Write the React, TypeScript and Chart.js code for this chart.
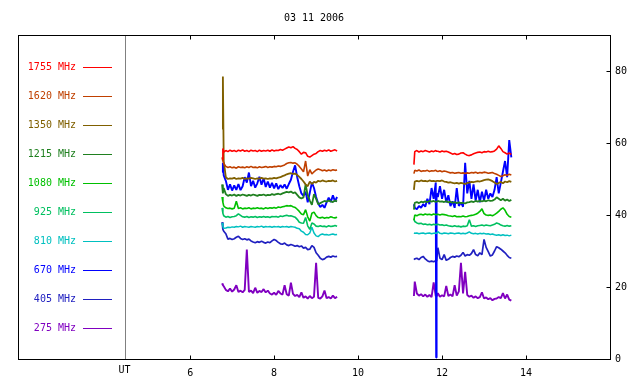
import { useEffect, useRef } from 'react';
import { Chart, registerables } from 'chart.js';

Chart.register(...registerables);

const FONT = '"DejaVu Sans Mono", "Liberation Mono", monospace';

const titleText = '03 11 2006';
const utLabel = 'UT';
const utHour = 4.46;
const gapHour = 10.4;
const xMin = 1.9;
const xMax = 16;
const yMin = 0;
const yMax = 90;
const xTicks = [6, 8, 10, 12, 14];
const yTicks = [0, 20, 40, 60, 80];

const freqLabels = ['1755 MHz', '1620 MHz', '1350 MHz', '1215 MHz', '1080 MHz', '925 MHz', '810 MHz', '670 MHz', '405 MHz', '275 MHz'];
const freqColors = ['#ff0000', '#c04000', '#806000', '#208020', '#00c000', '#00c060', '#00c0c0', '#0000ff', '#2020c0', '#8000c0'];
const lineWidths = [1.6, 1.6, 1.8, 1.8, 1.6, 1.6, 1.5, 1.9, 1.7, 1.9];

const t1 = [
  6.76, 6.78, 6.80, 6.85, 6.90, 6.95, 7.00, 7.05, 7.10, 7.15,
  7.20, 7.25, 7.30, 7.35, 7.40, 7.45, 7.50, 7.55, 7.60, 7.65,
  7.70, 7.75, 7.80, 7.85, 7.90, 7.95, 8.00, 8.05, 8.10, 8.15,
  8.20, 8.25, 8.30, 8.35, 8.40, 8.45, 8.50, 8.55, 8.60, 8.65,
  8.70, 8.75, 8.80, 8.85, 8.90, 8.95, 9.00, 9.05, 9.10, 9.15,
  9.20, 9.25, 9.30, 9.35, 9.40, 9.45, 9.50,
];
const t2 = [
  11.33, 11.35, 11.40, 11.45, 11.50, 11.55, 11.60, 11.65, 11.70, 11.75,
  11.80, 11.85, 11.86, 11.87, 11.90, 11.95, 12.00, 12.05, 12.10, 12.15,
  12.20, 12.25, 12.30, 12.35, 12.40, 12.45, 12.50, 12.55, 12.60, 12.65,
  12.70, 12.75, 12.80, 12.85, 12.90, 12.95, 13.00, 13.05, 13.10, 13.15,
  13.20, 13.25, 13.30, 13.35, 13.40, 13.45, 13.50, 13.55, 13.60, 13.65,
];

const f1755a = [
  55.5, 58.5, 57.5, 57.9, 57.6, 58.0, 57.7, 57.9, 57.6, 58.0,
  57.8, 58.1, 57.7, 57.9, 57.6, 58.0, 57.8, 57.9, 57.6, 58.0,
  57.7, 57.9, 57.8, 58.0, 57.7, 58.1, 57.8, 58.0, 57.9, 58.2,
  58.0, 58.3, 58.6, 58.9, 58.7, 59.0, 58.5, 58.2, 57.6, 56.9,
  57.4, 57.3, 56.3, 56.1, 56.5, 56.9, 57.1, 57.6, 57.9, 57.7,
  58.0, 57.8, 58.1, 57.7, 57.9, 58.1, 57.8,
];
const f1755b = [
  54.0, 57.6, 57.9, 57.5, 57.8, 57.6, 57.9, 57.7, 57.5, 57.8,
  57.6, 57.9, 57.8, 57.7, 57.7, 57.5, 57.8, 57.6, 57.7, 57.5,
  57.2, 56.9, 57.1, 56.8, 56.9, 57.2, 57.3, 56.9, 56.6, 56.5,
  56.7, 57.0, 57.2, 57.4, 57.5, 57.3, 57.6, 57.5, 57.7, 57.5,
  57.6, 57.8, 58.3, 59.2, 58.5, 57.6, 57.3, 56.9, 57.2, 56.8,
];
const f1620a = [
  56.0, 55.0, 54.3, 53.5, 53.2, 53.4, 53.1, 53.3, 53.0, 53.4,
  53.2, 53.3, 53.1, 53.4, 53.2, 53.5, 53.2, 53.3, 53.1, 53.4,
  53.2, 53.3, 53.5, 53.2, 53.4, 53.3, 53.5, 53.4, 53.6, 53.5,
  53.7, 53.9, 54.3, 54.5, 54.6, 54.4, 54.5, 54.1, 53.5, 52.8,
  52.0, 55.0, 50.8, 52.6, 51.4, 52.0, 52.5, 52.8, 52.6, 52.3,
  52.5, 52.2, 52.5, 52.3, 52.6, 52.4, 52.5,
];
const f1620b = [
  51.5, 52.4, 52.2, 52.5, 52.1, 52.3, 52.2, 52.4, 52.1, 52.3,
  52.2, 52.4, 52.3, 52.2, 52.1, 52.3, 52.0, 52.2, 52.1, 51.9,
  51.7, 51.8, 51.6, 51.7, 51.8, 51.6, 51.7, 51.5, 51.7, 51.6,
  51.8, 51.7, 51.9, 51.6, 51.8, 51.7, 51.9, 51.8, 51.6, 51.7,
  51.8, 51.5, 51.3, 51.0, 50.7, 50.9, 51.2, 51.0, 51.3, 51.1,
];
const f1350a = [
  64.0, 78.5, 55.0, 50.5, 50.0, 50.2, 50.1, 50.3, 50.0, 50.2,
  50.1, 50.3, 50.0, 50.2, 50.1, 50.3, 50.2, 50.0, 50.2, 50.1,
  50.3, 50.1, 50.2, 50.0, 50.2, 50.1, 50.3, 50.2, 50.4, 50.5,
  50.8, 51.0, 51.3, 51.5, 51.6, 51.4, 51.5, 51.1, 50.6, 50.0,
  49.3, 48.5, 48.0, 49.3, 48.6, 49.2, 49.0, 49.5, 49.3, 49.6,
  49.4, 49.3, 49.5, 49.4, 49.6, 49.3, 49.5,
];
const f1350b = [
  47.0, 49.3, 49.5, 49.3, 49.6, 49.4, 49.5, 49.3, 49.6, 49.4,
  49.5, 49.3, 49.4, 49.5, 49.5, 49.4, 49.6, 49.3, 49.2, 49.0,
  49.1, 48.9, 48.8, 48.9, 48.7, 48.9, 48.8, 48.6, 48.9, 49.0,
  49.2, 49.1, 49.3, 49.4, 49.3, 49.5, 49.7, 49.8, 49.9, 49.7,
  49.4, 49.0, 48.6, 48.9, 49.2, 48.8, 49.3, 49.1, 49.4, 49.2,
];
const f1215a = [
  48.5, 46.0, 47.5, 45.8, 45.3, 45.6, 45.4, 45.7, 45.3, 45.6,
  45.4, 45.7, 45.5, 45.3, 45.6, 45.4, 45.7, 45.5, 45.3, 45.6,
  45.5, 45.7, 45.4, 45.6, 45.5, 45.8, 45.6, 45.8, 45.9, 45.7,
  46.0, 46.2, 46.4, 46.3, 46.5, 46.1, 46.3, 45.6, 44.9, 44.6,
  44.9, 48.5, 45.5, 44.0, 42.8, 45.8, 44.5, 43.0, 43.3, 43.6,
  43.9, 43.7, 44.0, 43.8, 43.6, 44.0, 43.8,
];
const f1215b = [
  41.5, 43.4, 43.6, 43.3, 43.7, 43.5, 43.8, 43.6, 43.9, 43.7,
  43.9, 43.6, 43.8, 43.7, 43.9, 43.7, 43.8, 43.6, 43.9, 43.5,
  43.7, 43.4, 43.6, 43.3, 43.5, 43.3, 43.4, 43.2, 43.5, 43.6,
  43.8, 43.6, 43.9, 43.7, 43.9, 43.8, 44.0, 43.8, 44.1, 43.9,
  44.0, 44.3, 44.9, 44.5, 44.1, 44.5, 44.0, 44.3, 43.9, 44.2,
];
const f1080a = [
  45.0, 43.5, 42.5, 42.0, 41.8, 41.9, 41.7, 41.9, 43.8, 41.8,
  42.0, 41.7, 41.9, 41.8, 42.0, 41.7, 41.9, 41.8, 42.0, 41.8,
  41.9, 41.7, 42.0, 41.8, 42.0, 41.9, 42.1, 41.9, 42.2, 42.1,
  42.3, 42.4, 42.6, 42.5, 42.6, 42.3, 42.1, 41.6, 41.0, 40.3,
  40.1, 41.5, 39.5, 38.3, 40.5, 40.8, 39.8, 39.3, 39.2, 39.4,
  39.1, 39.3, 39.2, 39.5, 39.3, 39.2, 39.4,
];
const f1080b = [
  38.5, 40.0, 39.8, 40.1, 40.2, 40.0, 40.3, 40.1, 40.2, 40.0,
  40.3, 40.1, 40.2, 40.1, 40.2, 40.0, 40.2, 40.1, 40.0, 39.8,
  39.7, 39.6, 39.8, 39.5, 39.6, 39.5, 39.7, 39.5, 39.6, 39.8,
  39.9, 40.0, 40.2, 40.5, 41.0, 41.7, 40.4, 40.0, 39.9, 40.0,
  39.8, 40.1, 40.5, 41.0, 41.6, 42.0, 41.3, 40.2, 39.6, 39.4,
];
const f925a = [
  42.0, 40.5, 39.8, 39.4, 39.6, 39.3, 39.5, 39.6, 39.8, 40.3,
  39.9, 39.5, 39.4, 39.6, 39.3, 39.5, 39.4, 39.6, 39.3, 39.5,
  39.4, 39.6, 39.4, 39.5, 39.3, 39.6, 39.5, 39.6, 39.4, 39.7,
  39.6, 39.8, 39.9, 39.7, 39.8, 39.6, 39.4, 38.8, 38.0, 37.8,
  37.7, 39.3, 37.0, 36.0, 37.8, 37.5, 36.9, 36.8, 37.0, 36.8,
  36.9, 36.7, 37.0, 36.8, 36.9, 37.1, 36.9,
];
const f925b = [
  39.0, 38.2, 37.8, 37.6, 37.7, 37.4, 37.5, 37.3, 37.4, 37.2,
  37.4, 37.3, 37.4, 37.3, 37.4, 37.2, 37.3, 37.1, 37.2, 37.0,
  36.9, 36.8, 37.0, 36.8, 36.9, 36.7, 36.9, 36.8, 37.0, 38.7,
  36.9, 37.0, 36.8, 37.0, 37.1, 37.2, 37.0, 37.2, 37.1, 37.0,
  37.2, 37.4, 37.8, 37.6, 37.2, 37.0, 36.9, 37.1, 36.9, 37.0,
];
const f810a = [
  37.8, 36.8, 36.3, 36.4, 36.6, 36.5, 36.7, 36.6, 36.8, 36.7,
  36.9, 36.6, 36.8, 36.7, 36.6, 36.8, 36.7, 36.6, 36.8, 36.7,
  36.9, 36.6, 36.8, 36.7, 36.8, 36.6, 36.8, 36.7, 36.8, 36.6,
  36.8, 36.7, 36.8, 36.6, 36.8, 36.7, 36.6, 36.3, 36.2, 35.5,
  35.2, 34.6, 34.5, 35.0, 36.6, 35.0, 34.2, 34.0, 34.5, 34.7,
  34.5, 34.6, 34.4, 34.6, 34.7, 34.5, 34.6,
];
const f810b = [
  35.0, 34.9, 35.0, 34.8, 34.9, 35.0, 34.8, 34.9, 35.0, 34.8,
  34.9, 35.0, 34.9, 34.8, 35.4, 34.9, 34.8, 35.0, 34.9, 34.8,
  35.0, 34.9, 34.8, 34.9, 35.0, 34.8, 34.9, 34.8, 35.0, 35.3,
  34.9, 34.8, 34.9, 34.7, 34.9, 34.8, 34.9, 34.7, 34.8, 34.6,
  34.7, 34.5, 34.4, 34.5, 34.3, 34.5, 34.3, 34.4, 34.2, 34.4,
];
const f670a = [
  52.0, 54.5, 51.0, 49.5, 47.0, 48.5, 46.8, 48.2, 47.0, 48.6,
  46.9, 48.0, 50.5, 49.0, 51.8, 48.0, 49.5, 47.6, 48.8, 50.6,
  48.4, 50.2, 47.8, 49.3, 47.6, 48.9, 47.4, 48.8, 47.2, 48.3,
  47.5, 48.5, 47.3, 48.6, 49.8, 52.0, 53.8, 50.5, 48.0, 46.0,
  45.3, 46.5, 43.5, 46.2, 49.0, 47.5, 45.0, 43.2, 42.2, 42.8,
  42.0, 43.5, 44.8, 43.6, 45.5, 43.8, 45.0,
];
const f670b = [
  43.0, 42.0, 41.6, 42.5, 42.0, 43.0, 42.3, 44.5, 43.0, 47.5,
  44.5, 49.0, 0.4, 46.0, 45.0, 48.0, 44.5, 47.0, 43.5, 45.5,
  42.5, 43.8, 42.0, 47.5, 42.5, 43.5, 42.3, 54.5, 46.0, 49.5,
  44.5, 48.5, 44.0, 47.0, 43.5, 46.5, 44.0, 47.0, 44.5, 46.0,
  45.0, 47.0, 50.5, 46.0, 49.0, 52.0, 55.0, 50.5, 60.8, 56.0,
];
const f405a = [
  38.0, 36.0, 35.5, 34.8, 33.3, 33.5, 33.2, 33.4, 33.8, 34.1,
  33.5, 33.2, 33.4, 33.1, 33.3, 32.8, 32.5, 32.3, 32.6, 32.4,
  32.7, 32.4, 32.2, 32.5, 32.3, 32.8, 33.2, 32.9, 32.4, 32.0,
  31.9, 32.2, 31.7, 31.5, 31.8, 31.6, 31.3, 31.5, 31.2, 31.4,
  30.8, 31.0, 30.4, 30.5, 31.5, 31.0, 29.5, 28.8, 28.0, 27.6,
  27.8, 28.3, 28.5, 28.3, 28.6, 28.4, 28.5,
];
const f405b = [
  27.6, 27.8, 28.0, 27.6, 28.2, 28.5, 27.8, 27.3, 27.0, 27.2,
  27.0, 27.3, 27.2, 27.4, 30.9, 28.0, 27.6, 29.0, 27.4, 27.7,
  28.2, 28.5, 28.3, 28.6, 28.4, 28.8, 29.6, 28.6, 29.0, 28.8,
  29.3, 30.4, 29.0, 28.7, 29.5, 29.0, 33.2, 31.0, 29.8, 28.6,
  28.9, 30.0, 31.2, 30.9, 30.5, 30.0, 29.5, 28.8, 28.2, 28.0,
];
const f275a = [
  21.0, 20.5, 20.2, 19.2, 18.8, 19.6, 18.7, 19.3, 20.5, 18.6,
  19.0, 18.5, 19.2, 30.4, 18.6, 19.0, 18.3, 19.8, 18.4, 18.9,
  18.6, 19.4, 18.5, 19.0, 18.2, 17.9, 18.4, 17.8, 18.9, 18.2,
  17.9, 20.5, 18.0, 17.6, 21.2, 18.1, 17.5, 17.8, 17.2, 18.5,
  17.0, 17.4, 16.8, 17.5, 16.9, 17.3, 26.7, 17.0, 16.8, 17.4,
  19.0, 16.9, 17.2, 16.8, 17.6, 16.9, 17.3,
];
const f275b = [
  17.5, 21.5, 18.2, 17.6, 18.0, 17.4, 17.9, 17.3, 17.8, 17.2,
  21.3, 17.5, 17.8, 17.4, 18.3, 17.3, 17.7, 17.4, 20.3, 17.5,
  17.9, 17.4, 20.5, 17.6, 18.8, 26.7, 18.2, 24.2, 17.8, 17.3,
  17.6, 17.0, 17.4, 16.9, 17.2, 18.5, 16.8, 17.1, 16.6, 16.9,
  16.3, 16.7, 16.8, 17.2, 16.9, 18.3, 16.8, 17.9, 16.5, 16.2,
];

const segA = [f1755a, f1620a, f1350a, f1215a, f1080a, f925a, f810a, f670a, f405a, f275a];
const segB = [f1755b, f1620b, f1350b, f1215b, f1080b, f925b, f810b, f670b, f405b, f275b];

function buildData(a: number[], b: number[]) {
  return [
    ...t1.map((x, i) => ({ x, y: a[i] })),
    { x: gapHour, y: null as number | null },
    ...t2.map((x, i) => ({ x, y: b[i] })),
  ];
}

const decorPlugin = {
  id: 'decor',
  afterDatasetsDraw(chart: any) {
    const { ctx, chartArea: a, scales } = chart;
    const xs = scales.x;
    const ys = scales.y;
    const L = Math.round(a.left) + 0.5;
    const R = Math.round(a.right) + 0.5;
    const T = Math.round(a.top) + 0.5;
    const B = Math.round(a.bottom) + 0.5;
    ctx.save();
    ctx.lineWidth = 1;
    ctx.setLineDash([]);
    const seg = (x1: number, y1: number, x2: number, y2: number, color: string) => {
      ctx.strokeStyle = color;
      ctx.beginPath();
      ctx.moveTo(x1, y1);
      ctx.lineTo(x2, y2);
      ctx.stroke();
    };
    const ux = Math.round(xs.getPixelForValue(utHour)) + 0.5;
    seg(ux, T, ux, B, '#808080');
    ctx.strokeStyle = '#000000';
    ctx.strokeRect(L, T, R - L, B - T);
    xTicks.forEach((v) => {
      const px = Math.round(xs.getPixelForValue(v)) + 0.5;
      seg(px, B, px, B - 4, '#000000');
      seg(px, T, px, T + 4, '#000000');
    });
    yTicks.forEach((v) => {
      const py = Math.round(ys.getPixelForValue(v)) + 0.5;
      seg(R - 4, py, R, py, '#000000');
    });
    ctx.font = `10px ${FONT}`;
    ctx.textBaseline = 'middle';
    freqLabels.forEach((lab, i) => {
      const y = Math.round(a.top + 31.5 + i * 29.1) + 0.5;
      const c = freqColors[i];
      ctx.fillStyle = c;
      ctx.textAlign = 'right';
      ctx.fillText(lab, a.left + 58, y);
      seg(a.left + 65, y, a.left + 94, y, c);
    });
    ctx.fillStyle = '#000000';
    ctx.textAlign = 'center';
    ctx.fillText(titleText, (a.left + a.right) / 2, 18.5);
    ctx.fillText(utLabel, ux - 1, a.bottom + 11.5);
    ctx.restore();
  },
};

export default function App() {
  const ref = useRef<HTMLCanvasElement>(null);
  useEffect(() => {
    document.body.style.margin = '0';
    const canvas = ref.current;
    if (!canvas) return;
    const chart = new Chart(canvas, {
      type: 'line',
      data: {
        datasets: freqLabels.map((label, i) => ({
          label,
          data: buildData(segA[i], segB[i]),
          borderColor: freqColors[i],
          backgroundColor: freqColors[i],
          borderWidth: lineWidths[i],
          borderJoinStyle: 'bevel' as const,
          pointRadius: 0,
          tension: 0,
          spanGaps: false,
          fill: false,
        })),
      },
      options: {
        animation: false,
        responsive: false,
        devicePixelRatio: 1,
        layout: { padding: { left: 18, top: 35, right: 0, bottom: 0 } },
        plugins: {
          legend: { display: false },
          title: { display: false },
          tooltip: { enabled: false },
        },
        scales: {
          x: {
            type: 'linear',
            min: xMin,
            max: xMax,
            afterBuildTicks: (s: any) => {
              s.ticks = xTicks.map((value) => ({ value }));
            },
            afterFit: (s: any) => {
              s.height = 25;
            },
            grid: { display: false, drawTicks: false },
            border: { display: false },
            ticks: {
              autoSkip: false,
              maxRotation: 0,
              padding: 8,
              color: '#000000',
              font: { family: FONT, size: 10 },
            },
          },
          y: {
            type: 'linear',
            position: 'right',
            min: yMin,
            max: yMax,
            afterBuildTicks: (s: any) => {
              s.ticks = yTicks.map((value) => ({ value }));
            },
            afterFit: (s: any) => {
              s.width = 30;
            },
            grid: { display: false, drawTicks: false },
            border: { display: false },
            ticks: {
              padding: 5,
              color: '#000000',
              font: { family: FONT, size: 10 },
            },
          },
        },
      },
      plugins: [decorPlugin],
    });
    return () => chart.destroy();
  }, []);
  return (
    <div style={{ width: 640, height: 384, position: 'relative', background: '#ffffff' }}>
      <canvas ref={ref} width={640} height={384} style={{ display: 'block', width: '640px', height: '384px' }} />
    </div>
  );
}
